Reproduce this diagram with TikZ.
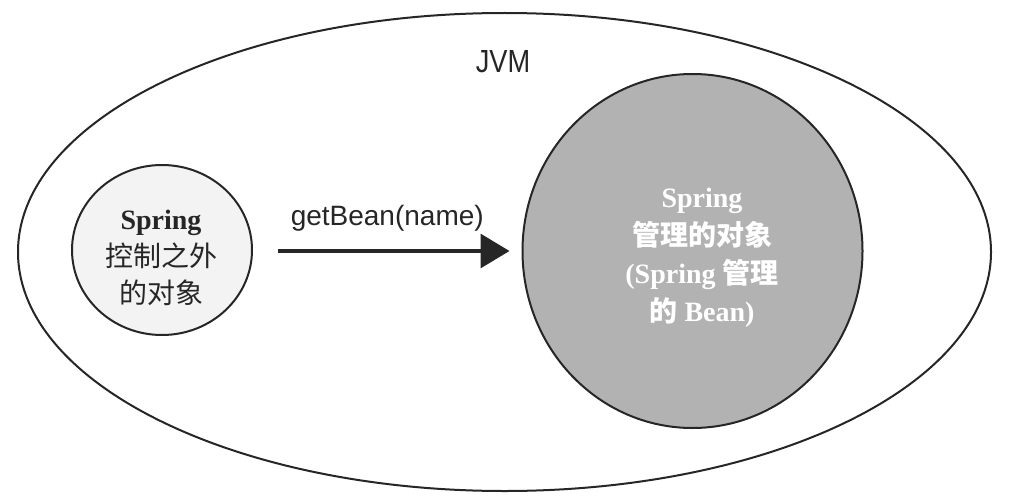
\documentclass[tikz,border=0pt]{standalone}
\usepackage{fontspec}
\setmainfont{Liberation Serif}
\newfontfamily\cjk{Noto Sans CJK SC}
\newfontfamily\helv{Liberation Sans}
\newfontfamily\narrow[FakeStretch=0.85]{Liberation Sans}
\usetikzlibrary{shapes.geometric,arrows.meta}
\definecolor{inkc}{HTML}{262626}
\definecolor{beanfill}{HTML}{B2B2B2}
\definecolor{lightfill}{HTML}{F3F3F3}
\tikzset{
  region/.style={ellipse, draw=inkc, line width=2pt, inner sep=0pt},
  callarrow/.style={draw=inkc, line width=3.3pt, -{Triangle[length=29pt,width=34pt]}},
}
\begin{document}
\begin{tikzpicture}[x=1pt,y=-1pt]
\useasboundingbox (0,0) rectangle (1016,503);
\node[region, minimum width=973pt, minimum height=478pt] (jvm) at (504.5,252) {};
\node[font=\narrow\fontsize{32}{36}\selectfont, text=inkc] (jvmlabel) at (503,62) {JVM};
\node[region, fill=lightfill, minimum width=180pt, minimum height=170pt] (outside) at (162,250) {};
\node[align=center, text=inkc, font=\fontsize{28}{37}\selectfont] (outsidetext) at (161,258)
  {{\bfseries Spring}\\{\cjk 控制之外}\\{\cjk 的对象}};
\node[region, fill=beanfill, minimum width=340pt, minimum height=354pt] (managed) at (692.5,251) {};
\node[align=center, text=white, font=\bfseries\fontsize{28}{38}\selectfont] (managedtext) at (702,258)
  {Spring\\{\cjk 管理的对象}\\(Spring {\cjk 管理}\\{\cjk 的} Bean)};
\draw[callarrow, shorten <=25pt, shorten >=12pt] (outside.east |- managed.west) -- (managed.west)
  node[midway, anchor=south, yshift=18pt, inner sep=0pt, text=inkc, font=\helv\fontsize{28}{32}\selectfont] (call) {getBean(name)};
\end{tikzpicture}
\end{document}
